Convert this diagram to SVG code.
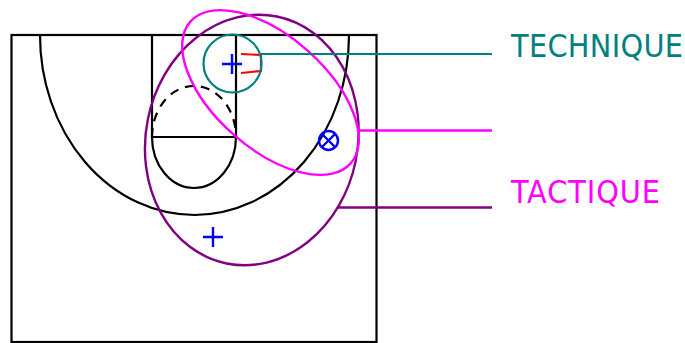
<svg xmlns="http://www.w3.org/2000/svg" width="685" height="343" viewBox="0 0 685 343">
<style>
.k{fill:none;stroke:#000;stroke-width:2.200}
.b{fill:none;stroke:#00f;stroke-width:2.400}
.r{fill:none;stroke:#f00;stroke-width:2.200}
.t{fill:none;stroke:#008080;stroke-width:2.200}
.m{fill:none;stroke:#f0f;stroke-width:2.400}
.p{fill:none;stroke:#800080;stroke-width:2.400}
text{font-family:"DejaVu Sans","Liberation Sans",sans-serif;font-stretch:condensed;font-size:32px}
</style>
<g id="court">
<rect class="k" x="11.500" y="35" width="365" height="307"/>
<path class="k" d="M40 35A154.500 180 0 0 0 349 35"/>
<path class="k" d="M152 35V137H236V35"/>
<path class="k" d="M152 137A42 51 0 0 0 236 137"/>
<path class="k" stroke-dasharray="9 7" d="M152 137A42 51 0 0 1 236 137"/>
</g>
<g id="marks">
<path class="r" d="M241 54L261 55V71L241 73"/>
<path class="b" d="M222 64H242M232 54V74"/>
<path class="b" d="M203 237H223M213 227V247"/>
<circle class="b" cx="328.500" cy="140.500" r="9.500"/>
<path class="b" d="M322 134L335 147M335 134L322 147"/>
</g>
<g id="technique">
<circle class="t" cx="232.500" cy="63.500" r="29"/>
<text x="511" y="57" fill="#008080" textLength="172">TECHNIQUE</text>
</g>
<g id="tactique">
<ellipse class="p" cx="251.800" cy="140" rx="106" ry="126" transform="rotate(11.500 251.800 140)"/>
<ellipse class="m" cx="270.500" cy="92.500" rx="107" ry="56" transform="rotate(41.500 270.500 92.500)"/>
<text x="511" y="203" fill="#f0f" textLength="149">TACTIQUE</text>
</g>
<g id="connectors">
<path class="t" d="M261 54H492"/>
<path class="m" d="M358 130.500H492"/>
<path class="p" d="M338 207.500H492"/>
</g>
</svg>
